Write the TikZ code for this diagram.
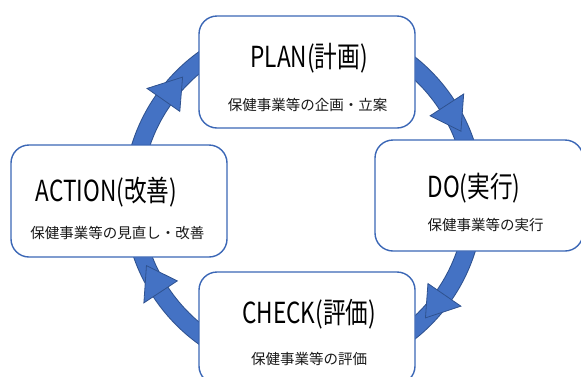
\documentclass[tikz,border=0pt]{standalone}
\usepackage{fontspec}
\setmainfont{Noto Sans CJK JP}
\usepackage{graphicx}
\usepackage{xcolor}
\usetikzlibrary{calc}

\definecolor{ringblue}{HTML}{4472C4}
\definecolor{ringline}{HTML}{2F528F}
\definecolor{boxline}{HTML}{3B67B6}
\newcommand{\ttltext}[1]{\scalebox{0.78}[1]{\fontsize{29}{29}\selectfont #1}}

\begin{document}
\begin{tikzpicture}[x=1pt, y=-1pt,
		box/.style={draw=boxline, line width=1.4pt, fill=white, rounded corners=18pt, minimum width=216pt, minimum height=112pt},
		ttl/.style={anchor=base, inner sep=0pt, text=black},
		sub/.style={inner sep=0pt, font=\fontsize{14.5}{14.5}\selectfont, text=black!90}]
				\useasboundingbox (0,0) rectangle (581,376);
				\clip (0,0) rectangle (581,376);
				
				% Ring
				\coordinate (c) at (303.5,198);
				\draw[ringline, line width=18.5pt] (c) circle[radius=171];
				\draw[ringblue, line width=16.5pt] (c) circle[radius=171];
				
				% Arrow heads (clockwise)
				\foreach \b/\t in {-33/-23, 34.5/44.5, 146.7/156.7, 215/225}
				\filldraw[fill=ringblue, draw=ringline, line width=0.8pt, line join=miter]
				($(c)+(\b:191)$) -- ($(c)+(\t:171)$) -- ($(c)+(\b:151)$) -- cycle;
				
				% Boxes
				\node[box] (plan) at (307,72) {};
				\node[box, minimum width=208pt, minimum height=111pt] (do) at (479,195.5) {};
				\node[box] (check) at (307,328) {};
				\node[box] (act) at (119,201) {};
				
				% Titles
				\node[ttl] (plan-t) at (309,67) {\ttltext{PLAN(計画)}};
				\node[ttl] (do-t) at (474,197) {\ttltext{DO(実行)}};
				\node[ttl] (check-t) at (309,323) {\ttltext{CHECK(評価)}};
				\node[ttl] (act-t) at (106.5,201) {\ttltext{ACTION(改善)}};
				
				% Sub texts
				\node[sub] (plan-s) at (307.5,104.5) {保健事業等の企画・立案};
				\node[sub] (do-s) at (485.5,224.5) {保健事業等の実行};
				\node[sub] (check-s) at (309,359) {保健事業等の評価};
				\node[sub] (act-s) at (117.5,233) {保健事業等の見直し・改善};
			\end{tikzpicture}
\end{document}
